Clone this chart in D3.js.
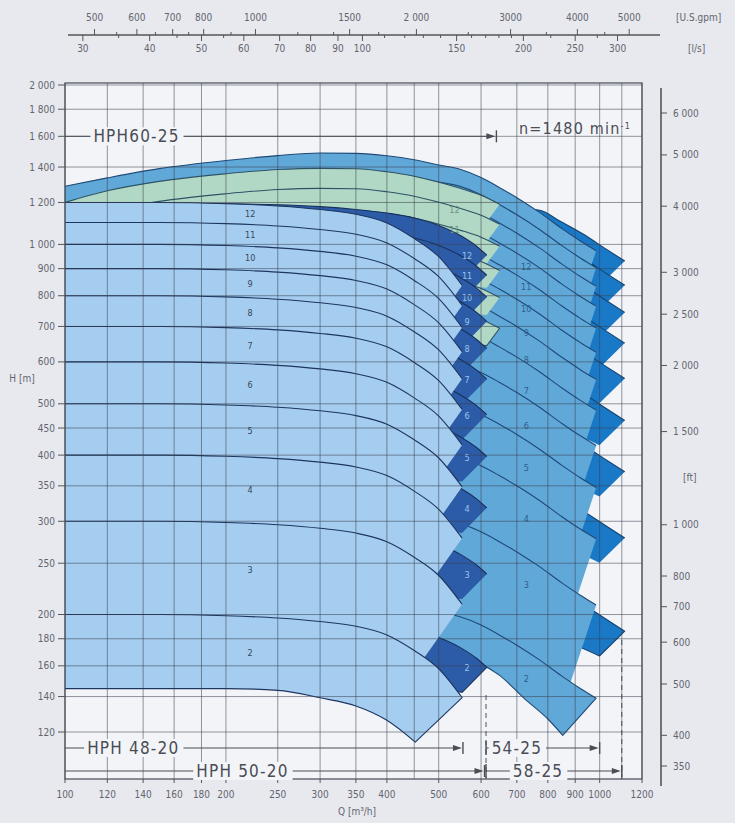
<!DOCTYPE html>
<html lang="de">
<head>
<meta charset="UTF-8">
<title>HPH Kennfeld n=1480</title>
<script src="https://d3js.org/d3.v7.min.js"></script>
<style>
  body { margin: 0; background: #e8e9ef; }
  text { font-family: "DejaVu Sans Condensed", "Liberation Sans Narrow", sans-serif; fill: #62656e; }
  .tick { font-size: 10px; }
  .big { font-size: 17px; fill: #4a4d55; letter-spacing: 1.2px; }
</style>
</head>
<body>
<svg width="735" height="823"></svg>
<script>
// ---- axis ticks (m3/h, m, ft, US gpm, l/s)
var qTicks  = [100, 120, 140, 160, 180, 200, 250, 300, 350, 400, 500, 600, 700, 800, 900, 1000, 1200];
var qGrid   = [100, 120, 140, 160, 180, 200, 250, 300, 350, 400, 450, 500, 600, 700, 800, 900, 1000, 1100, 1200];
var hTicks  = [120, 140, 160, 180, 200, 250, 300, 350, 400, 450, 500, 600, 700, 800, 900, 1000, 1200, 1400, 1600, 1800, 2000];
var hLabels = ["120", "140", "160", "180", "200", "250", "300", "350", "400", "450", "500", "600", "700", "800", "900",
               "1 000", "1 200", "1 400", "1 600", "1 800", "2 000"];
var ftTicks  = [350, 400, 500, 600, 700, 800, 1000, 1500, 2000, 2500, 3000, 4000, 5000, 6000];
var ftLabels = ["350", "400", "500", "600", "700", "800", "1 000", "1 500", "2 000", "2 500", "3 000", "4 000", "5 000", "6 000"];
var gpmTicks  = [500, 600, 700, 800, 1000, 1500, 2000, 3000, 4000, 5000];
var gpmLabels = ["500", "600", "700", "800", "1000", "1500", "2 000", "3000", "4000", "5000"];
var gpmMinor  = [550, 650, 750, 900, 1200, 1400, 1700, 2500, 3500, 4500];
var lsTicks  = [30, 40, 50, 60, 70, 80, 90, 100, 150, 200, 250, 300];
var lsMinor  = [35, 45, 55, 110, 120, 130, 140, 160, 170, 180, 190, 225, 275];

// ---- HPH 48-20 (per stage head, m)
var a48Q      = [100, 150, 200, 250, 300, 350, 400, 450, 500, 553];
var a48Top    = [100, 100, 99.5, 98.5, 97, 95, 91.5, 85.5, 79, 69.7];
var a48BotQ   = [100, 200, 250, 300, 350, 400, 452];
var a48Bot    = [66, 66, 65.5, 63.4, 61.2, 57.5, 52.3];
var a48Stages = [2, 3, 4, 5, 6, 7, 8, 9, 10, 11, 12];

// ---- HPH 50-20
var b50Q      = [100, 250, 300, 350, 400, 450, 500, 550, 590, 615];
var b50Top    = [100, 99, 98.2, 97, 95.5, 93.5, 90.5, 86.5, 82.5, 79.5];
var b50BotQ   = [100, 300, 400, 450, 500, 553];
var b50Bot    = [73, 73, 72.8, 72.5, 72, 71.3];
var b50Stages = [2, 3, 4, 5, 6, 7, 8, 9, 10, 11, 12];

// ---- HPH 60-25
var e60Q      = [100, 120, 150, 200, 250, 300, 350, 400, 450, 500, 550, 600, 650];
var e60Top    = [100, 105.2, 109.6, 113.3, 115.4, 116, 115.8, 114.3, 112.1, 109.2, 106.3, 103.2, 99.2];
var e60BotQ   = [100, 300, 500, 615];
var e60Bot    = [86, 93, 93, 92];
var e60Stages = [7, 8, 9, 10, 11, 12];

// ---- HPH 54-25
var c54Q      = [100, 120, 150, 200, 250, 300, 350, 400, 450, 500, 548, 600, 649, 700, 773, 850, 920, 985];
var c54Top    = [92, 95.4, 99.3, 102.9, 105.1, 106.3, 106.1, 105, 103.2, 100.9, 99, 95.5, 91.5, 87.5, 82, 76.5, 72.5, 69.5];
var c54BotQ   = [100, 300, 400, 548, 649, 724, 800, 853];
var c54Bot    = [60.6, 63.6, 64.4, 62.8, 58.2, 52.5, 48.1, 44.8];
var c54Stages = [2, 3, 4, 5, 6, 7, 8, 9, 10, 11, 12, 13, 14];

// ---- HPH 58-25
var d58Q      = [500, 600, 700, 773, 842, 931, 1020, 1114];
var d58Top    = [112, 115, 117, 116, 110.7, 104.6, 98.5, 93];
var d58BotQ   = [500, 700, 850, 999];
var d58Bot    = [92, 91, 89, 83.5];
var d58Stages = [2, 3, 4, 5, 6, 7, 8, 9, 10];

// ---- operating ranges
var rangeNames = ["HPH 48-20", "HPH 50-20", "54-25", "58-25"];
var rangeFrom  = [100, 100, 613, 613];
var rangeTo    = [555, 609, 1000, 1100];
var rangeTextQ = [110, 176, 628, 688];
var topRangeTo = 641;

var svg = d3.select("svg");

var x = d3.scaleLog().domain([100, 1200]).range([65, 642]);
var y = d3.scaleLog().domain([120, 2000]).range([732, 85]);
var yFt = d3.scaleLog().domain([350, 6000]).range([766, 113]);
var plotTop = 83, plotBottom = 779, plotLeft = x(100), plotRight = x(1200);

svg.append("rect").attr("x", plotLeft).attr("y", plotTop)
    .attr("width", plotRight - plotLeft).attr("height", plotBottom - plotTop)
    .attr("fill", "#f3f4f8");

svg.append("clipPath").attr("id", "plotclip").append("rect")
    .attr("x", plotLeft).attr("y", plotTop)
    .attr("width", plotRight - plotLeft).attr("height", plotBottom - plotTop);

function interpLog(qs, hs, q) {
    for (var i = 0; i < qs.length - 1; i++) {
        if (q <= qs[i + 1]) {
            var t = (Math.log(q) - Math.log(qs[i])) / (Math.log(qs[i + 1]) - Math.log(qs[i]));
            return Math.exp(Math.log(hs[i]) + t * (Math.log(hs[i + 1]) - Math.log(hs[i])));
        }
    }
    return hs[hs.length - 1];
}

function fieldPoints(f, n) {
    var k = n === f.stages[0] ? f.low : 1;
    return {
        top: f.q.map(function (q, i) { return [x(q), y(n * f.top[i])]; }),
        bot: f.botQ.map(function (q, i) { return [x(q), y(n * k * f.bot[i])]; })
    };
}

var smooth = d3.line().curve(d3.curveMonotoneX);

function fieldPath(p) {
    return smooth(p.top) + smooth(p.bot.slice().reverse()).replace(/^M/, "L") + "Z";
}

// top curve of every stage; the lowest stage also gets its end edge and bottom curve
function outlinePath(p, lowest) {
    var d = smooth(p.top);
    if (lowest) d += "L" + p.bot[p.bot.length - 1].join(",") + smooth(p.bot.slice().reverse()).replace(/^M/, "L");
    return d;
}

var families = [
    {q: d58Q, top: d58Top, botQ: d58BotQ, bot: d58Bot, stages: d58Stages, low: 1,     fill: "#1a79c7", line: "#16426f"},
    {q: c54Q, top: c54Top, botQ: c54BotQ, bot: c54Bot, stages: c54Stages, low: 1.32,  fill: "#60a8d8", line: "#1f4a78"},
    {q: e60Q, top: e60Top, botQ: e60BotQ, bot: e60Bot, stages: e60Stages, low: 1,     fill: "#b1d8c5", line: "#2d5466"},
    {q: b50Q, top: b50Top, botQ: b50BotQ, bot: b50Bot, stages: b50Stages, low: 1,     fill: "#2c5ca8", line: "#18305c"},
    {q: a48Q, top: a48Top, botQ: a48BotQ, bot: a48Bot, stages: a48Stages, low: 1.098, fill: "#a5cdef", line: "#1d3560"}
];

var chart = svg.append("g").attr("clip-path", "url(#plotclip)");

families.forEach(function (f) {
    var fields = f.stages.map(function (n) { return fieldPoints(f, n); });
    var g = chart.append("g");
    g.selectAll("path.field").data(fields).enter().append("path")
        .attr("class", "field")
        .attr("d", fieldPath)
        .attr("fill", f.fill);
    g.selectAll("path.edge").data(fields).enter().append("path")
        .attr("class", "edge")
        .attr("d", function (p, i) { return outlinePath(p, i === 0); })
        .attr("fill", "none")
        .attr("stroke", f.line)
        .attr("stroke-width", 1.1)
        .attr("stroke-linejoin", "round");
});

// ---- stage labels
function stageLabels(list, fill, halo) {
    chart.append("g").selectAll("text").data(list).enter().append("text")
        .attr("x", function (d) { return x(d.q); })
        .attr("y", function (d) { return y(d.h); })
        .attr("text-anchor", "middle")
        .attr("dominant-baseline", "middle")
        .style("font-size", "9px")
        .style("fill", fill)
        .style("stroke", halo)
        .style("stroke-width", halo === "none" ? 0 : 3)
        .style("paint-order", "stroke")
        .text(function (d) { return d.n; });
}

var aLabelQ = 222;
stageLabels(a48Stages.map(function (n) {
    var t = n * interpLog(a48Q, a48Top, aLabelQ);
    var b = n === a48Stages[0] ? n * 1.098 * interpLog(a48BotQ, a48Bot, aLabelQ)
                               : (n - 1) * interpLog(a48Q, a48Top, aLabelQ);
    return {n: n, q: aLabelQ, h: Math.sqrt(t * b)};
}), "#3b4657", "#a5cdef");

stageLabels(b50Stages.map(function (n) { return {n: n, q: 565, h: n * 79}; }), "#9cc3ea", "none");
stageLabels(c54Stages.filter(function (n) { return n <= 12; })
    .map(function (n) { return {n: n, q: 729, h: n * 75.5}; }), "#2c5f8e", "none");
stageLabels([11, 12].map(function (n) { return {n: n, q: 535, h: n * 96.5}; }), "#6c8f80", "none");

// ---- grid
var grid = svg.append("g").attr("stroke", "#3a3f4c").attr("stroke-opacity", 0.6).attr("stroke-width", 0.9);
grid.selectAll("line.v").data(qGrid).enter().append("line")
    .attr("x1", x).attr("x2", x).attr("y1", plotTop).attr("y2", plotBottom);
grid.selectAll("line.h").data(hTicks).enter().append("line")
    .attr("x1", plotLeft).attr("x2", plotRight).attr("y1", y).attr("y2", y);

svg.append("rect").attr("x", plotLeft).attr("y", plotTop)
    .attr("width", plotRight - plotLeft).attr("height", plotBottom - plotTop)
    .attr("fill", "none").attr("stroke", "#444a55").attr("stroke-width", 1.2);

// ---- left axis H [m]
var left = svg.append("g");
left.selectAll("line").data(hTicks).enter().append("line")
    .attr("x1", plotLeft - 7).attr("x2", plotLeft).attr("y1", y).attr("y2", y)
    .attr("stroke", "#555").attr("stroke-width", 1);
left.selectAll("text").data(hTicks).enter().append("text")
    .attr("class", "tick")
    .attr("x", plotLeft - 10).attr("y", y).attr("dy", "0.35em")
    .attr("text-anchor", "end")
    .text(function (d, i) { return hLabels[i]; });
svg.append("text").attr("class", "tick").attr("x", 22).attr("y", 382)
    .attr("text-anchor", "middle").text("H [m]");

// ---- bottom axis Q [m3/h]
var bottom = svg.append("g");
bottom.selectAll("line").data(qTicks).enter().append("line")
    .attr("x1", x).attr("x2", x).attr("y1", plotBottom).attr("y2", plotBottom + 4)
    .attr("stroke", "#555");
bottom.selectAll("text").data(qTicks).enter().append("text")
    .attr("class", "tick")
    .attr("x", x).attr("y", 798)
    .attr("text-anchor", "middle")
    .text(function (d) { return d; });
svg.append("text").attr("class", "tick").attr("x", 357).attr("y", 815)
    .attr("text-anchor", "middle").text("Q [m³/h]");

// ---- right axis H [ft]
var right = svg.append("g");
right.append("line").attr("x1", 661).attr("x2", 661).attr("y1", 88).attr("y2", 786)
    .attr("stroke", "#555").attr("stroke-width", 1.6);
right.selectAll("line.t").data(ftTicks).enter().append("line")
    .attr("x1", 661).attr("x2", 667).attr("y1", yFt).attr("y2", yFt)
    .attr("stroke", "#555");
right.selectAll("text").data(ftTicks).enter().append("text")
    .attr("class", "tick")
    .attr("x", 673).attr("y", yFt).attr("dy", "0.35em")
    .text(function (d, i) { return ftLabels[i]; });
svg.append("text").attr("class", "tick").attr("x", 683).attr("y", 481).text("[ft]");

// ---- top axis US gpm / l/s
var gx = function (g) { return x(g / 4.4029); };
var lx = function (l) { return x(l * 3.6); };
var topAxis = svg.append("g").attr("stroke", "#555");
topAxis.append("line").attr("x1", 68).attr("x2", 660).attr("y1", 35).attr("y2", 35).attr("stroke-width", 1.4);
topAxis.selectAll("line.g").data(gpmTicks).enter().append("line")
    .attr("x1", gx).attr("x2", gx).attr("y1", 29).attr("y2", 35);
topAxis.selectAll("line.gm").data(gpmMinor).enter().append("line")
    .attr("x1", gx).attr("x2", gx).attr("y1", 32).attr("y2", 35);
topAxis.selectAll("line.l").data(lsTicks).enter().append("line")
    .attr("x1", lx).attr("x2", lx).attr("y1", 35).attr("y2", 41);
topAxis.selectAll("line.lm").data(lsMinor).enter().append("line")
    .attr("x1", lx).attr("x2", lx).attr("y1", 35).attr("y2", 38);
svg.append("g").selectAll("text").data(gpmTicks).enter().append("text")
    .attr("class", "tick").attr("x", gx).attr("y", 21).attr("text-anchor", "middle")
    .text(function (d, i) { return gpmLabels[i]; });
svg.append("g").selectAll("text").data(lsTicks).enter().append("text")
    .attr("class", "tick").attr("x", lx).attr("y", 52).attr("text-anchor", "middle")
    .text(function (d) { return d; });
svg.append("text").attr("class", "tick").attr("x", 676).attr("y", 21).text("[U.S.gpm]");
svg.append("text").attr("class", "tick").attr("x", 688).attr("y", 52).text("[l/s]");

// ---- range arrows
function rangeArrow(q0, q1, yy, label, qText, startBar) {
    var g = svg.append("g");
    var t = g.append("text").attr("class", "big").attr("x", x(qText)).attr("y", yy)
        .attr("dy", "0.36em").text(label);
    var w = t.node().getComputedTextLength();
    var x0 = x(q0), x1 = x(q1), xt0 = x(qText) - 3, xt1 = x(qText) + w + 4;
    g.append("rect").attr("x", xt0).attr("y", yy - 9).attr("width", xt1 - xt0).attr("height", 18)
        .attr("fill", "#f3f4f8").lower();
    var ln = g.append("g").attr("stroke", "#4a4d55").attr("stroke-width", 1);
    if (xt0 > x0 + 2) ln.append("line").attr("x1", x0).attr("x2", xt0).attr("y1", yy).attr("y2", yy);
    ln.append("line").attr("x1", xt1).attr("x2", x1 - 6).attr("y1", yy).attr("y2", yy);
    ln.append("line").attr("x1", x1).attr("x2", x1).attr("y1", yy - 6).attr("y2", yy + 6).attr("stroke-width", 1.4);
    if (startBar) ln.append("line").attr("x1", x0).attr("x2", x0).attr("y1", yy - 7).attr("y2", yy + 7).attr("stroke-width", 1.4);
    g.append("path").attr("d", "M" + (x1 - 1) + "," + yy + "L" + (x1 - 10) + "," + (yy - 3) + "L" + (x1 - 10) + "," + (yy + 3) + "Z")
        .attr("fill", "#4a4d55");
}
var rowY = [748, 771];
rangeNames.forEach(function (nm, i) {
    rangeArrow(rangeFrom[i], rangeTo[i], rowY[i % 2], nm, rangeTextQ[i], rangeFrom[i] > 100);
});
rangeArrow(100, topRangeTo, y(1600), "HPH60-25", 113, false);

var dash = svg.append("g").attr("stroke", "#4a4d55").attr("stroke-dasharray", "5,4").attr("stroke-width", 1);
dash.append("line").attr("x1", x(rangeFrom[2])).attr("x2", x(rangeFrom[2])).attr("y1", 695).attr("y2", plotBottom);
dash.append("line").attr("x1", x(rangeTo[3])).attr("x2", x(rangeTo[3])).attr("y1", 640).attr("y2", plotBottom);

var nt = svg.append("text").attr("class", "big").attr("x", 519).attr("y", 128).attr("dy", "0.35em")
    .style("font-size", "16px");
nt.append("tspan").text("n=1480 min");
nt.append("tspan").attr("dy", "-0.5em").style("font-size", "9px").text("-1");
</script>
</body>
</html>
